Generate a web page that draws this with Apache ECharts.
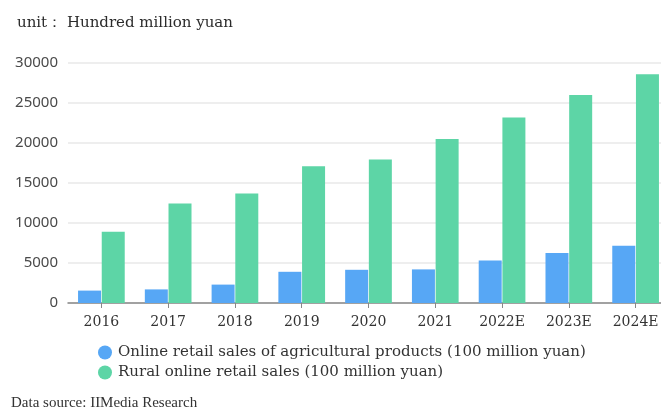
<!DOCTYPE html>
<html>
<head>
<meta charset="utf-8">
<script src="https://cdn.jsdelivr.net/npm/echarts@6/dist/echarts.min.js"></script>
<style>
html,body{margin:0;padding:0;background:#fff;}
#chart{width:661px;height:410px;}
</style>
</head>
<body>
<div id="chart"></div>
<script>
const categories = ['2016','2017','2018','2019','2020','2021','2022E','2023E','2024E'];
const agriSales = [1550, 1700, 2300, 3900, 4150, 4200, 5300, 6250, 7150];
const ruralSales = [8900, 12450, 13700, 17100, 17950, 20500, 23200, 26000, 28600];
const yTicks = [0, 5000, 10000, 15000, 20000, 25000, 30000];
const seriesNames = ['Online retail sales of agricultural products (100 million yuan)', 'Rural online retail sales (100 million yuan)'];

const chart = echarts.init(document.getElementById('chart'), null, {renderer:'canvas'});
chart.setOption({
  animation:false,
  backgroundColor:'#fff',
  title:{
    text:'unit： Hundred million yuan',
    left:12, top:11,
    textStyle:{fontFamily:'DejaVu Serif', fontSize:15, fontWeight:'normal', color:'#2b2b2b'}
  },
  grid:{left:68, width:601, top:63, height:240, containLabel:false, outerBoundsMode:'none'},
  legend:{
    orient:'vertical', left:93, top:340,
    itemGap:5, itemWidth:14, itemHeight:14, icon:'circle',
    textStyle:{fontFamily:'DejaVu Serif', fontSize:15, color:'#333', padding:[0,0,0,1]},
    data:seriesNames
  },
  xAxis:{
    type:'category', data:categories,
    axisLine:{lineStyle:{color:'#888', width:1.5}},
    axisTick:{show:true, alignWithLabel:true, length:5, lineStyle:{color:'#888'}},
    axisLabel:{fontFamily:'DejaVu Serif', fontSize:14, color:'#333', margin:12}
  },
  yAxis:{
    type:'value', min:yTicks[0], max:yTicks[yTicks.length-1], interval:5000,
    axisLine:{show:false}, axisTick:{show:false},
    axisLabel:{fontFamily:'Noto Sans', fontSize:15, color:'#4a4a4a', margin:10, formatter:function(v){return String(v);}},
    splitLine:{lineStyle:{color:'#e8e8e8', width:1.5}}
  },
  graphic:[{
    type:'text', left:11, top:396,
    style:{text:'Data source: IIMedia Research', font:'15px "Liberation Serif"', fill:'#333'}
  }],
  series:[
    {name:seriesNames[0], type:'bar', data:agriSales, barWidth:23, barGap:'3%', itemStyle:{color:'#57a7f5'}},
    {name:seriesNames[1], type:'bar', data:ruralSales, barWidth:23, itemStyle:{color:'#5dd5a6'}}
  ]
});
</script>
</body>
</html>
